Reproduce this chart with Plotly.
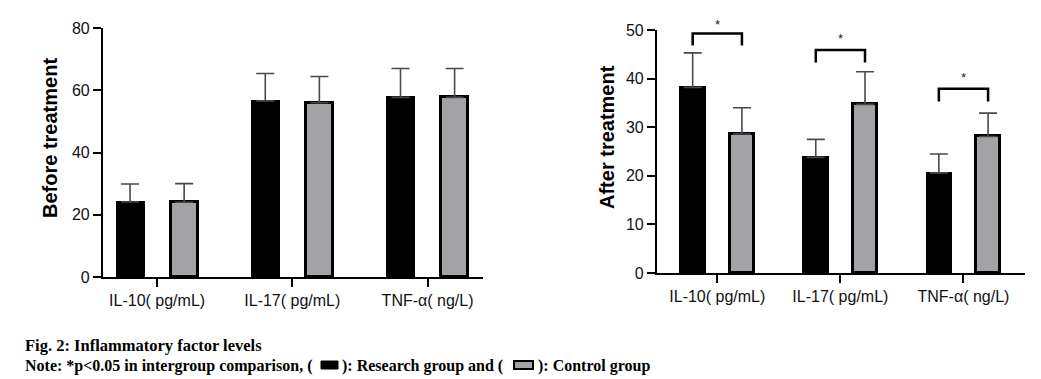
import plotly.graph_objects as go

W, H = 1041, 379
# the page places the figure 8px in from the top-left corner (body margin)
OX, OY = 8, 8

categories = ["IL-10( pg/mL)", "IL-17( pg/mL)", "TNF-α( ng/L)"]

before_research = [24.1, 56.6, 57.7]
before_research_err = [5.8, 8.8, 9.3]
before_control = [24.0, 56.0, 57.7]
before_control_err = [6.0, 8.4, 9.3]

after_research = [38.2, 23.8, 20.6]
after_research_err = [7.1, 3.7, 3.9]
after_control = [28.6, 34.7, 28.1]
after_control_err = [5.4, 6.7, 4.8]

# significance brackets (after treatment): bar height, leg bottom, star height
bracket_top = [49.3, 45.9, 37.9]
bracket_leg = [46.8, 43.3, 35.3]
star_y = [51.2, 48.2, 40.2]

BLACK = "#000000"
GRAY = "#a3a3a7"
ERR = "#4a4a4a"

xs = list(range(len(categories)))


def px(x):
    return (x - OX) / W


def py(y):
    return 1 - (y - OY) / H


Y2_BOT, Y2_TOP = py(273), py(30)


def y2_paper(v):
    return Y2_BOT + v / 50 * (Y2_TOP - Y2_BOT)


fig = go.Figure()


def add_pair(res, res_err, ctl, ctl_err, xa, ya):
    fig.add_trace(go.Bar(
        x=xs, y=res, width=0.2, offset=-0.3,
        marker=dict(color=BLACK, line=dict(color=BLACK, width=2)),
        error_y=dict(type="data", array=res_err, arrayminus=[0] * len(res),
                     symmetric=False, color=ERR, thickness=1.6, width=9),
        xaxis=xa, yaxis=ya, showlegend=False, name="Research group"))
    fig.add_trace(go.Bar(
        x=xs, y=ctl, width=0.2, offset=0.1,
        marker=dict(color=GRAY, line=dict(color=BLACK, width=3)),
        error_y=dict(type="data", array=ctl_err, arrayminus=[0] * len(ctl),
                     symmetric=False, color=ERR, thickness=1.6, width=9),
        xaxis=xa, yaxis=ya, showlegend=False, name="Control group"))


add_pair(before_research, before_research_err, before_control, before_control_err, "x", "y")
add_pair(after_research, after_research_err, after_control, after_control_err, "x2", "y2")

tickfont = dict(family="Liberation Sans Narrow, Liberation Sans, Arial", size=16, color="#111")
common_x = dict(tickvals=xs, ticktext=categories, showline=True, linecolor=BLACK, linewidth=2.2,
                ticks="outside", ticklen=8, tickwidth=2.2, tickcolor=BLACK, showgrid=False,
                zeroline=False, tickfont=tickfont, fixedrange=True, automargin=False)
common_y = dict(showline=True, linecolor=BLACK, linewidth=2.2, ticks="outside", ticklen=8,
                tickwidth=2.2, tickcolor=BLACK, showgrid=False, zeroline=False,
                tickfont=tickfont, fixedrange=True, automargin=False)

fig.update_layout(
    width=W, height=H, margin=dict(l=0, r=0, t=0, b=0, pad=0, autoexpand=False),
    paper_bgcolor="white", plot_bgcolor="white",
    bargap=0,
    xaxis=dict(domain=[px(103), px(483)], range=[-0.4, 2.41], anchor="y", **common_x),
    yaxis=dict(domain=[py(277), py(28)], range=[0, 80], tickvals=[0, 20, 40, 60, 80], anchor="x", **common_y),
    xaxis2=dict(domain=[px(657), px(1025)], range=[-0.49, 2.5], anchor="y2", **common_x),
    yaxis2=dict(domain=[Y2_BOT, Y2_TOP], range=[0, 50], tickvals=[0, 10, 20, 30, 40, 50], anchor="x2", **common_y),
)

# brackets
for i in range(len(categories)):
    xl, xr = xs[i] - 0.2, xs[i] + 0.2
    fig.add_shape(type="path", xref="x2", yref="y2",
                  path=f"M {xl} {bracket_leg[i]} L {xl} {bracket_top[i]} L {xr} {bracket_top[i]} L {xr} {bracket_leg[i]}",
                  line=dict(color=BLACK, width=2.5))
    fig.add_annotation(x=xs[i], y=y2_paper(star_y[i]), xref="x2", yref="paper", text="*", showarrow=False,
                       font=dict(family="Liberation Sans, Arial", size=13, color="#222"),
                       xanchor="center", yanchor="middle")

title_font = dict(family="Liberation Sans, Arial", size=20, color=BLACK)
fig.add_annotation(x=px(50), y=py(138), xref="paper", yref="paper", text="<b>Before treatment</b>",
                   textangle=-90, showarrow=False, font=title_font, xanchor="center", yanchor="middle")
fig.add_annotation(x=px(607), y=py(137), xref="paper", yref="paper", text="<b>After treatment</b>",
                   textangle=-90, showarrow=False, font=title_font, xanchor="center", yanchor="middle")

cap_font = dict(family="Liberation Serif, Times New Roman", size=16.5, color=BLACK)
note_font = dict(family="Liberation Serif, Times New Roman", size=16, color=BLACK)
fig.add_annotation(x=px(23), y=py(345), xref="paper", yref="paper", xanchor="left", yanchor="middle",
                   text="<b>Fig. 2: Inflammatory factor levels</b>", showarrow=False, font=cap_font)
fig.add_annotation(x=px(23), y=py(366), xref="paper", yref="paper", xanchor="left", yanchor="middle",
                   text="<b>Note: *p&lt;0.05 in intergroup comparison, (</b>", showarrow=False, font=note_font)
fig.add_annotation(x=px(340), y=py(366), xref="paper", yref="paper", xanchor="left", yanchor="middle",
                   text="<b>): Research group and (</b>", showarrow=False, font=note_font)
fig.add_annotation(x=px(536), y=py(366), xref="paper", yref="paper", xanchor="left", yanchor="middle",
                   text="<b>): Control group</b>", showarrow=False, font=note_font)
fig.add_shape(type="rect", xref="paper", yref="paper", x0=px(321), x1=px(338), y0=py(369), y1=py(361),
              fillcolor=BLACK, line=dict(color=BLACK, width=1))
fig.add_shape(type="rect", xref="paper", yref="paper", x0=px(514), x1=px(533), y0=py(369), y1=py(361),
              fillcolor=GRAY, line=dict(color=BLACK, width=2))

fig.write_html("out.html")
